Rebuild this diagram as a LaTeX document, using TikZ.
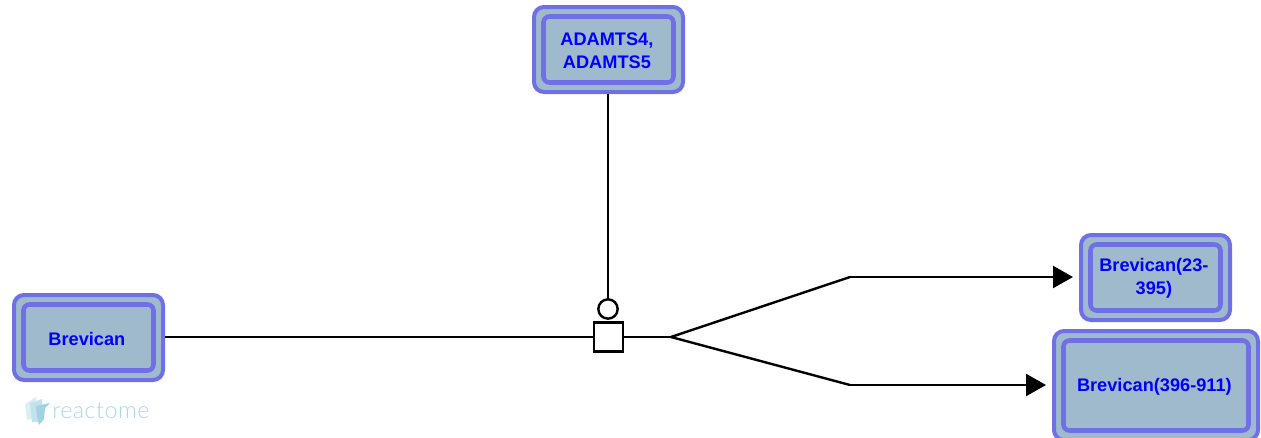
\documentclass[tikz,border=0pt]{standalone}
\usepackage{fontspec}
\setmainfont{Liberation Sans}
\newfontfamily\logofont[LetterSpace=2]{Lato Light}
\usetikzlibrary{arrows.meta,positioning}
\definecolor{pebody}{HTML}{A0BACD}
\definecolor{peline}{HTML}{6F70E6}
\definecolor{pelabel}{HTML}{0000FF}
\definecolor{logoa}{HTML}{DCEEF4}
\definecolor{logob}{HTML}{C4E2EC}
\definecolor{logoc}{HTML}{9FD2E2}
\definecolor{logotext}{HTML}{A8D8E6}
\tikzset{
  x=0.75pt,y=-0.75pt,
  peinner/.style={draw=peline,fill=pebody,line width=3.4pt,rounded corners=4.5pt,inner sep=0pt},
  pelabeltext/.style={align=center,inner sep=0pt,font=\fontsize{13.65}{17.2}\selectfont\bfseries,text=pelabel},
  link/.style={draw=black,line width=1.8pt},
  arrowlink/.style={link,-{Triangle[length=15pt,width=16.5pt]}},
  proc/.style={draw=black,fill=white,line width=1.8pt,minimum size=21.5pt,inner sep=0pt,outer sep=0pt},
  cat/.style={draw=black,fill=white,line width=1.8pt,circle,minimum size=14.5pt,inner sep=0pt,outer sep=0pt},
}
\newcommand{\pebox}[7]{% name, left, top, right, bottom, inset, text
  \draw[draw=peline,fill=pebody,line width=3pt,rounded corners=7.5pt] (#2,#3) rectangle (#4,#5);
  \node[peinner,minimum width={(#4-#2-2*#6)*0.75pt},minimum height={(#5-#3-2*#6)*0.75pt}] (#1) at ({(#2+#4)/2},{(#3+#5)/2}) {};
  \node[pelabeltext] (#1t) at ([xshift=-1.2pt,yshift=-0.75pt]#1.center) {#7};
}
\begin{document}
\begin{tikzpicture}
\useasboundingbox (0,0) rectangle (1261,437);
\clip (0,0) rectangle (1261,437);
\pebox{brev}{14}{295}{163}{380}{9.5}{Brevican}
\pebox{adam}{534}{7}{683}{92}{9.5}{ADAMTS4,\\ADAMTS5}
\pebox{frag}{1081}{235}{1230}{320}{9.5}{Brevican(23-\\395)}
\pebox{fragb}{1054}{331}{1258}{440}{9.5}{Brevican(396-911)}
\node[proc] (p) at (608.5,337) {};
\node[cat] (c) at (608,309) {};
\coordinate (fork) at (671,337);
\coordinate (upper) at (850,277);
\coordinate (lower) at (850,385);
\coordinate (upend) at (1073,277);
\coordinate (lowend) at (1046,385);
\coordinate (adamb) at (608,93.5);
\coordinate (brevr) at (165,337);
\draw[link] (brevr) -- (p.west);
\draw[link] (adamb) -- (c.north);
\draw[link] (p.east) -- (fork);
\draw[link,line join=miter] (fork) -- (upper);
\draw[link,line join=miter] (fork) -- (lower);
\draw[arrowlink] (upper) -- (upend);
\draw[arrowlink] (lower) -- (lowend);
% logo
\fill[logoa] (25,404) -- (36,397) -- (36,418) -- (27,420) -- cycle;
\fill[logob] (30,403) -- (42,399) -- (42,422) -- (32,422) -- cycle;
\fill[logoc] (36,406) -- (50,403) -- (45,408) -- (44,419) -- (39,425) -- (37,416) -- cycle;
\node[font=\logofont\fontsize{17.5}{17.5}\selectfont,text=logotext,anchor=base west,inner sep=0pt] (logo) at (52,418) {reactome};
\end{tikzpicture}
\end{document}
